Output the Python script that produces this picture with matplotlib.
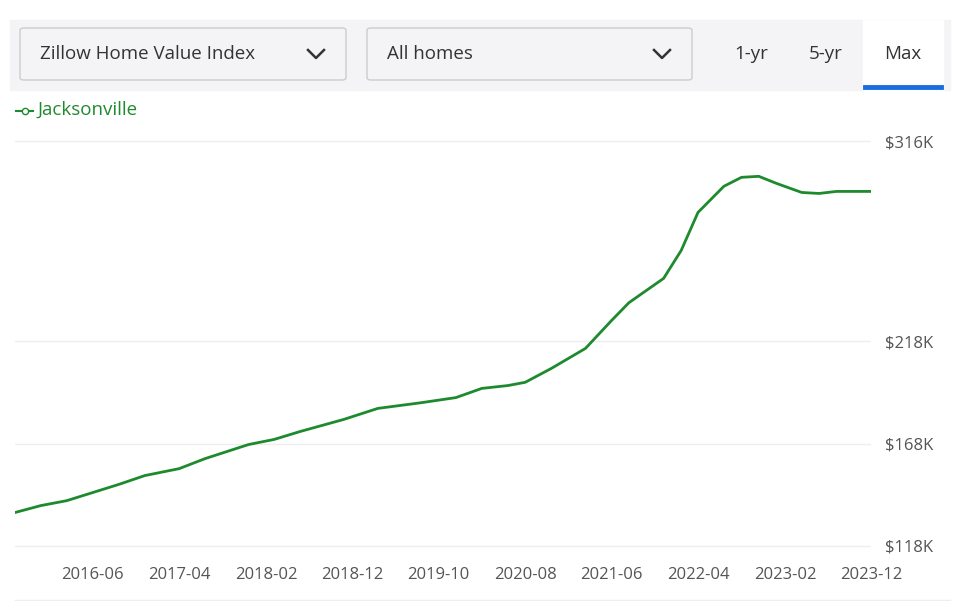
import matplotlib
matplotlib.use("Agg")
import matplotlib.pyplot as plt
import matplotlib.patches as mpatches
from matplotlib.lines import Line2D
import pandas as pd

plt.rcParams["font.family"] = "Open Sans"

dates = ["2015-09","2015-12","2016-03","2016-06","2016-09","2016-12","2017-04","2017-07",
         "2017-12","2018-03","2018-06","2018-11","2019-03","2019-08","2019-12","2020-03",
         "2020-06","2020-08","2020-11","2021-03","2021-06","2021-08","2021-12","2022-02",
         "2022-04","2022-07","2022-09","2022-11","2023-01","2023-04","2023-06","2023-08","2023-12"]
values = [134.2,137.6,140.0,144.0,148.0,152.3,155.7,160.6,167.5,170.0,173.9,179.8,185.2,188.0,
          190.5,195.0,196.4,198.0,204.8,214.6,228.3,237.0,248.9,262.6,281.2,294.0,298.4,298.9,
          295.5,291.0,290.5,291.5,291.5]
yticks = [118, 168, 218, 316]
xtick_labels = ["2016-06","2017-04","2018-02","2018-12","2019-10","2020-08","2021-06","2022-04","2023-02","2023-12"]

x = pd.to_datetime(dates)
fig = plt.figure(figsize=(9.79, 6.01), dpi=100)
ax = fig.add_axes([15/979, 1-566/601, (871-15)/979, (566-121)/601])
ax.plot(x, values, color="#1e8a2e", lw=2, solid_joinstyle="round")
ax.set_ylim(108, 326)
ax.set_xlim(pd.Timestamp("2015-09-01"), pd.Timestamp("2023-12-01"))
ax.set_yticks(yticks)
ax.set_yticklabels([f"${v}K" for v in yticks])
ax.yaxis.tick_right()
ax.tick_params(axis="y", length=0, labelsize=12, labelcolor="#555555", pad=10)
ax.set_xticks(pd.to_datetime(xtick_labels))
ax.set_xticklabels(xtick_labels)
ax.tick_params(axis="x", length=0, labelsize=12, labelcolor="#555555", pad=1)
ax.grid(axis="y", color="#eeeeee", lw=1)
for s in ax.spines.values():
    s.set_visible(False)

# top control bar
fig.patches.append(mpatches.Rectangle((10/979, 1-90/601), 940/979, 70/601, transform=fig.transFigure,
                                      color="#f4f4f6", zorder=0))
for (x0, w, t) in [(20, 326, "Zillow Home Value Index"), (367, 325, "All homes")]:
    fig.patches.append(mpatches.FancyBboxPatch((x0/979, 1-80/601), w/979, 52/601, transform=fig.transFigure,
                       boxstyle="round,pad=0,rounding_size=0.004", fc="#f4f4f6", ec="#cccccc", lw=1))
    fig.text((x0+20)/979, 1-54/601, t, fontsize=13.5, va="center", color="#333333")
    cx, cy = (x0+w-30)/979, 1-54/601
    fig.lines.append(Line2D([cx-8/979, cx, cx+8/979], [cy+4/601, cy-4/601, cy+4/601],
                            transform=fig.transFigure, color="#333333", lw=1.8))
fig.text(751/979, 1-54/601, "1-yr", fontsize=13.5, va="center", ha="center", color="#333333")
fig.text(826/979, 1-54/601, "5-yr", fontsize=13.5, va="center", ha="center", color="#333333")
fig.patches.append(mpatches.Rectangle((863/979, 1-90/601), 80/979, 70/601, transform=fig.transFigure, color="white", zorder=0))
fig.text(903/979, 1-54/601, "Max", fontsize=13.5, va="center", ha="center", color="#333333")
fig.lines.append(Line2D([865/979, 941/979], [1-87/601]*2, transform=fig.transFigure, color="#1a6de0", lw=3.5))
fig.lines.append(Line2D([16/979, 33/979], [1-111/601]*2, transform=fig.transFigure, color="#1e8a2e", lw=1.5))
fig.lines.append(Line2D([24.5/979], [1-111/601], transform=fig.transFigure, color="#1e8a2e",
                        marker="o", mfc="white", ms=4.5, lw=0))
fig.lines.append(Line2D([15/979, 950/979], [1-600/601]*2, transform=fig.transFigure, color="#eeeeee", lw=1))
fig.text(38/979, 1-110/601, "Jacksonville", fontsize=13.5, va="center", color="#1e8a2e")
fig.savefig("out.png", dpi=100)
